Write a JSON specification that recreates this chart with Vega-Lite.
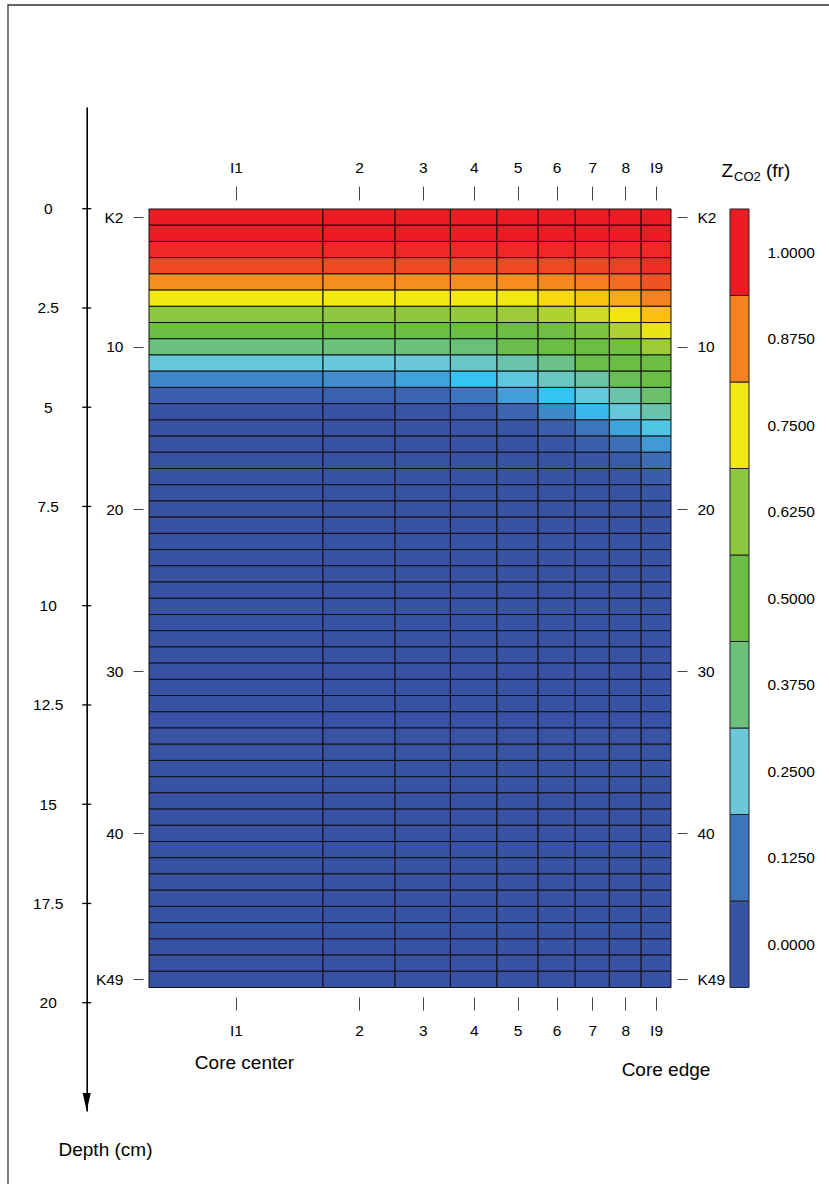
{
"$schema": "https://vega.github.io/schema/vega-lite/v6.json",
"width": 522,
"height": 1004,
"autosize": {"type": "none"},
"padding": {"left": 149, "top": 107, "right": 158, "bottom": 73},
"background": "white",
"config": {"font": "Liberation Sans", "view": {"stroke": null}, "axis": {"labelFont": "Liberation Sans", "labelFontSize": 15.5, "labelColor": "#000", "grid": false, "title": null, "labelOverlap": false, "labelFlush": false, "labelBound": false}},
"datasets": {
"cols": [{"i":1,"r0":0,"r1":174},{"i":2,"r0":174,"r1":246.07},{"i":3,"r0":246.07,"r1":301.38},{"i":4,"r0":301.38,"r1":348},{"i":5,"r0":348,"r1":389.07},{"i":6,"r0":389.07,"r1":426.21},{"i":7,"r0":426.21,"r1":460.36},{"i":8,"r0":460.36,"r1":492.15},{"i":9,"r0":492.15,"r1":522}],
"krows": [{"k":2,"k0":1.5,"k1":2.5},{"k":3,"k0":2.5,"k1":3.5},{"k":4,"k0":3.5,"k1":4.5},{"k":5,"k0":4.5,"k1":5.5},{"k":6,"k0":5.5,"k1":6.5},{"k":7,"k0":6.5,"k1":7.5},{"k":8,"k0":7.5,"k1":8.5},{"k":9,"k0":8.5,"k1":9.5},{"k":10,"k0":9.5,"k1":10.5},{"k":11,"k0":10.5,"k1":11.5},{"k":12,"k0":11.5,"k1":12.5},{"k":13,"k0":12.5,"k1":13.5},{"k":14,"k0":13.5,"k1":14.5},{"k":15,"k0":14.5,"k1":15.5},{"k":16,"k0":15.5,"k1":16.5},{"k":17,"k0":16.5,"k1":17.5},{"k":18,"k0":17.5,"k1":18.5},{"k":19,"k0":18.5,"k1":19.5},{"k":20,"k0":19.5,"k1":20.5},{"k":21,"k0":20.5,"k1":21.5},{"k":22,"k0":21.5,"k1":22.5},{"k":23,"k0":22.5,"k1":23.5},{"k":24,"k0":23.5,"k1":24.5},{"k":25,"k0":24.5,"k1":25.5},{"k":26,"k0":25.5,"k1":26.5},{"k":27,"k0":26.5,"k1":27.5},{"k":28,"k0":27.5,"k1":28.5},{"k":29,"k0":28.5,"k1":29.5},{"k":30,"k0":29.5,"k1":30.5},{"k":31,"k0":30.5,"k1":31.5},{"k":32,"k0":31.5,"k1":32.5},{"k":33,"k0":32.5,"k1":33.5},{"k":34,"k0":33.5,"k1":34.5},{"k":35,"k0":34.5,"k1":35.5},{"k":36,"k0":35.5,"k1":36.5},{"k":37,"k0":36.5,"k1":37.5},{"k":38,"k0":37.5,"k1":38.5},{"k":39,"k0":38.5,"k1":39.5},{"k":40,"k0":39.5,"k1":40.5},{"k":41,"k0":40.5,"k1":41.5},{"k":42,"k0":41.5,"k1":42.5},{"k":43,"k0":42.5,"k1":43.5},{"k":44,"k0":43.5,"k1":44.5},{"k":45,"k0":44.5,"k1":45.5},{"k":46,"k0":45.5,"k1":46.5},{"k":47,"k0":46.5,"k1":47.5},{"k":48,"k0":47.5,"k1":48.5},{"k":49,"k0":48.5,"k1":49.5}],
"depthticks": [{"d":0},{"d":2.5},{"d":5},{"d":7.5},{"d":10},{"d":12.5},{"d":15},{"d":17.5},{"d":20}],
"legend": [{"z":0,"lo":-0.0625,"hi":0.0625},{"z":0.125,"lo":0.0625,"hi":0.1875},{"z":0.25,"lo":0.1875,"hi":0.3125},{"z":0.375,"lo":0.3125,"hi":0.4375},{"z":0.5,"lo":0.4375,"hi":0.5625},{"z":0.625,"lo":0.5625,"hi":0.6875},{"z":0.75,"lo":0.6875,"hi":0.8125},{"z":0.875,"lo":0.8125,"hi":0.9375},{"z":1,"lo":0.9375,"hi":1.0625}],
"cells": [
{"k":2,"i":1,"z":1},{"k":2,"i":2,"z":1},{"k":2,"i":3,"z":1},{"k":2,"i":4,"z":1},{"k":2,"i":5,"z":1},{"k":2,"i":6,"z":1},{"k":2,"i":7,"z":1},{"k":2,"i":8,"z":1},{"k":2,"i":9,"z":1},
{"k":3,"i":1,"z":1},{"k":3,"i":2,"z":1},{"k":3,"i":3,"z":1},{"k":3,"i":4,"z":1},{"k":3,"i":5,"z":1},{"k":3,"i":6,"z":1},{"k":3,"i":7,"z":1},{"k":3,"i":8,"z":1},{"k":3,"i":9,"z":1},
{"k":4,"i":1,"z":0.985},{"k":4,"i":2,"z":0.985},{"k":4,"i":3,"z":0.985},{"k":4,"i":4,"z":0.985},{"k":4,"i":5,"z":0.985},{"k":4,"i":6,"z":0.985},{"k":4,"i":7,"z":0.985},{"k":4,"i":8,"z":0.985},{"k":4,"i":9,"z":0.985},
{"k":5,"i":1,"z":0.94},{"k":5,"i":2,"z":0.94},{"k":5,"i":3,"z":0.94},{"k":5,"i":4,"z":0.94},{"k":5,"i":5,"z":0.94},{"k":5,"i":6,"z":0.942},{"k":5,"i":7,"z":0.945},{"k":5,"i":8,"z":0.955},{"k":5,"i":9,"z":0.978},
{"k":6,"i":1,"z":0.862},{"k":6,"i":2,"z":0.862},{"k":6,"i":3,"z":0.862},{"k":6,"i":4,"z":0.862},{"k":6,"i":5,"z":0.864},{"k":6,"i":6,"z":0.868},{"k":6,"i":7,"z":0.878},{"k":6,"i":8,"z":0.9},{"k":6,"i":9,"z":0.93},
{"k":7,"i":1,"z":0.75},{"k":7,"i":2,"z":0.75},{"k":7,"i":3,"z":0.75},{"k":7,"i":4,"z":0.75},{"k":7,"i":5,"z":0.752},{"k":7,"i":6,"z":0.775},{"k":7,"i":7,"z":0.81},{"k":7,"i":8,"z":0.835},{"k":7,"i":9,"z":0.875},
{"k":8,"i":1,"z":0.625},{"k":8,"i":2,"z":0.627},{"k":8,"i":3,"z":0.63},{"k":8,"i":4,"z":0.635},{"k":8,"i":5,"z":0.645},{"k":8,"i":6,"z":0.668},{"k":8,"i":7,"z":0.705},{"k":8,"i":8,"z":0.755},{"k":8,"i":9,"z":0.815},
{"k":9,"i":1,"z":0.5},{"k":9,"i":2,"z":0.5},{"k":9,"i":3,"z":0.5},{"k":9,"i":4,"z":0.5},{"k":9,"i":5,"z":0.5},{"k":9,"i":6,"z":0.52},{"k":9,"i":7,"z":0.57},{"k":9,"i":8,"z":0.665},{"k":9,"i":9,"z":0.74},
{"k":10,"i":1,"z":0.37},{"k":10,"i":2,"z":0.372},{"k":10,"i":3,"z":0.375},{"k":10,"i":4,"z":0.38},{"k":10,"i":5,"z":0.48},{"k":10,"i":6,"z":0.5},{"k":10,"i":7,"z":0.5},{"k":10,"i":8,"z":0.525},{"k":10,"i":9,"z":0.645},
{"k":11,"i":1,"z":0.248},{"k":11,"i":2,"z":0.249},{"k":11,"i":3,"z":0.25},{"k":11,"i":4,"z":0.275},{"k":11,"i":5,"z":0.31},{"k":11,"i":6,"z":0.355},{"k":11,"i":7,"z":0.49},{"k":11,"i":8,"z":0.5},{"k":11,"i":9,"z":0.51},
{"k":12,"i":1,"z":0.148},{"k":12,"i":2,"z":0.155},{"k":12,"i":3,"z":0.178},{"k":12,"i":4,"z":0.21},{"k":12,"i":5,"z":0.24},{"k":12,"i":6,"z":0.28},{"k":12,"i":7,"z":0.32},{"k":12,"i":8,"z":0.46},{"k":12,"i":9,"z":0.5},
{"k":13,"i":1,"z":0.045},{"k":13,"i":2,"z":0.05},{"k":13,"i":3,"z":0.07},{"k":13,"i":4,"z":0.125},{"k":13,"i":5,"z":0.175},{"k":13,"i":6,"z":0.21},{"k":13,"i":7,"z":0.245},{"k":13,"i":8,"z":0.31},{"k":13,"i":9,"z":0.41},
{"k":14,"i":1,"z":0},{"k":14,"i":2,"z":0},{"k":14,"i":3,"z":0.005},{"k":14,"i":4,"z":0.015},{"k":14,"i":5,"z":0.07},{"k":14,"i":6,"z":0.15},{"k":14,"i":7,"z":0.2},{"k":14,"i":8,"z":0.245},{"k":14,"i":9,"z":0.31},
{"k":15,"i":1,"z":0},{"k":15,"i":2,"z":0},{"k":15,"i":3,"z":0},{"k":15,"i":4,"z":0.002},{"k":15,"i":5,"z":0.01},{"k":15,"i":6,"z":0.045},{"k":15,"i":7,"z":0.125},{"k":15,"i":8,"z":0.18},{"k":15,"i":9,"z":0.23},
{"k":16,"i":1,"z":0},{"k":16,"i":2,"z":0},{"k":16,"i":3,"z":0},{"k":16,"i":4,"z":0},{"k":16,"i":5,"z":0},{"k":16,"i":6,"z":0.008},{"k":16,"i":7,"z":0.045},{"k":16,"i":8,"z":0.11},{"k":16,"i":9,"z":0.17},
{"k":17,"i":1,"z":0},{"k":17,"i":2,"z":0},{"k":17,"i":3,"z":0},{"k":17,"i":4,"z":0},{"k":17,"i":5,"z":0},{"k":17,"i":6,"z":0},{"k":17,"i":7,"z":0.008},{"k":17,"i":8,"z":0.03},{"k":17,"i":9,"z":0.1},
{"k":18,"i":1,"z":0},{"k":18,"i":2,"z":0},{"k":18,"i":3,"z":0},{"k":18,"i":4,"z":0},{"k":18,"i":5,"z":0},{"k":18,"i":6,"z":0},{"k":18,"i":7,"z":0},{"k":18,"i":8,"z":0.005},{"k":18,"i":9,"z":0.035},
{"k":19,"i":1,"z":0},{"k":19,"i":2,"z":0},{"k":19,"i":3,"z":0},{"k":19,"i":4,"z":0},{"k":19,"i":5,"z":0},{"k":19,"i":6,"z":0},{"k":19,"i":7,"z":0},{"k":19,"i":8,"z":0},{"k":19,"i":9,"z":0.008},
{"k":20,"i":1,"z":0},{"k":20,"i":2,"z":0},{"k":20,"i":3,"z":0},{"k":20,"i":4,"z":0},{"k":20,"i":5,"z":0},{"k":20,"i":6,"z":0},{"k":20,"i":7,"z":0},{"k":20,"i":8,"z":0},{"k":20,"i":9,"z":0},
{"k":21,"i":1,"z":0},{"k":21,"i":2,"z":0},{"k":21,"i":3,"z":0},{"k":21,"i":4,"z":0},{"k":21,"i":5,"z":0},{"k":21,"i":6,"z":0},{"k":21,"i":7,"z":0},{"k":21,"i":8,"z":0},{"k":21,"i":9,"z":0},
{"k":22,"i":1,"z":0},{"k":22,"i":2,"z":0},{"k":22,"i":3,"z":0},{"k":22,"i":4,"z":0},{"k":22,"i":5,"z":0},{"k":22,"i":6,"z":0},{"k":22,"i":7,"z":0},{"k":22,"i":8,"z":0},{"k":22,"i":9,"z":0},
{"k":23,"i":1,"z":0},{"k":23,"i":2,"z":0},{"k":23,"i":3,"z":0},{"k":23,"i":4,"z":0},{"k":23,"i":5,"z":0},{"k":23,"i":6,"z":0},{"k":23,"i":7,"z":0},{"k":23,"i":8,"z":0},{"k":23,"i":9,"z":0},
{"k":24,"i":1,"z":0},{"k":24,"i":2,"z":0},{"k":24,"i":3,"z":0},{"k":24,"i":4,"z":0},{"k":24,"i":5,"z":0},{"k":24,"i":6,"z":0},{"k":24,"i":7,"z":0},{"k":24,"i":8,"z":0},{"k":24,"i":9,"z":0},
{"k":25,"i":1,"z":0},{"k":25,"i":2,"z":0},{"k":25,"i":3,"z":0},{"k":25,"i":4,"z":0},{"k":25,"i":5,"z":0},{"k":25,"i":6,"z":0},{"k":25,"i":7,"z":0},{"k":25,"i":8,"z":0},{"k":25,"i":9,"z":0},
{"k":26,"i":1,"z":0},{"k":26,"i":2,"z":0},{"k":26,"i":3,"z":0},{"k":26,"i":4,"z":0},{"k":26,"i":5,"z":0},{"k":26,"i":6,"z":0},{"k":26,"i":7,"z":0},{"k":26,"i":8,"z":0},{"k":26,"i":9,"z":0},
{"k":27,"i":1,"z":0},{"k":27,"i":2,"z":0},{"k":27,"i":3,"z":0},{"k":27,"i":4,"z":0},{"k":27,"i":5,"z":0},{"k":27,"i":6,"z":0},{"k":27,"i":7,"z":0},{"k":27,"i":8,"z":0},{"k":27,"i":9,"z":0},
{"k":28,"i":1,"z":0},{"k":28,"i":2,"z":0},{"k":28,"i":3,"z":0},{"k":28,"i":4,"z":0},{"k":28,"i":5,"z":0},{"k":28,"i":6,"z":0},{"k":28,"i":7,"z":0},{"k":28,"i":8,"z":0},{"k":28,"i":9,"z":0},
{"k":29,"i":1,"z":0},{"k":29,"i":2,"z":0},{"k":29,"i":3,"z":0},{"k":29,"i":4,"z":0},{"k":29,"i":5,"z":0},{"k":29,"i":6,"z":0},{"k":29,"i":7,"z":0},{"k":29,"i":8,"z":0},{"k":29,"i":9,"z":0},
{"k":30,"i":1,"z":0},{"k":30,"i":2,"z":0},{"k":30,"i":3,"z":0},{"k":30,"i":4,"z":0},{"k":30,"i":5,"z":0},{"k":30,"i":6,"z":0},{"k":30,"i":7,"z":0},{"k":30,"i":8,"z":0},{"k":30,"i":9,"z":0},
{"k":31,"i":1,"z":0},{"k":31,"i":2,"z":0},{"k":31,"i":3,"z":0},{"k":31,"i":4,"z":0},{"k":31,"i":5,"z":0},{"k":31,"i":6,"z":0},{"k":31,"i":7,"z":0},{"k":31,"i":8,"z":0},{"k":31,"i":9,"z":0},
{"k":32,"i":1,"z":0},{"k":32,"i":2,"z":0},{"k":32,"i":3,"z":0},{"k":32,"i":4,"z":0},{"k":32,"i":5,"z":0},{"k":32,"i":6,"z":0},{"k":32,"i":7,"z":0},{"k":32,"i":8,"z":0},{"k":32,"i":9,"z":0},
{"k":33,"i":1,"z":0},{"k":33,"i":2,"z":0},{"k":33,"i":3,"z":0},{"k":33,"i":4,"z":0},{"k":33,"i":5,"z":0},{"k":33,"i":6,"z":0},{"k":33,"i":7,"z":0},{"k":33,"i":8,"z":0},{"k":33,"i":9,"z":0},
{"k":34,"i":1,"z":0},{"k":34,"i":2,"z":0},{"k":34,"i":3,"z":0},{"k":34,"i":4,"z":0},{"k":34,"i":5,"z":0},{"k":34,"i":6,"z":0},{"k":34,"i":7,"z":0},{"k":34,"i":8,"z":0},{"k":34,"i":9,"z":0},
{"k":35,"i":1,"z":0},{"k":35,"i":2,"z":0},{"k":35,"i":3,"z":0},{"k":35,"i":4,"z":0},{"k":35,"i":5,"z":0},{"k":35,"i":6,"z":0},{"k":35,"i":7,"z":0},{"k":35,"i":8,"z":0},{"k":35,"i":9,"z":0},
{"k":36,"i":1,"z":0},{"k":36,"i":2,"z":0},{"k":36,"i":3,"z":0},{"k":36,"i":4,"z":0},{"k":36,"i":5,"z":0},{"k":36,"i":6,"z":0},{"k":36,"i":7,"z":0},{"k":36,"i":8,"z":0},{"k":36,"i":9,"z":0},
{"k":37,"i":1,"z":0},{"k":37,"i":2,"z":0},{"k":37,"i":3,"z":0},{"k":37,"i":4,"z":0},{"k":37,"i":5,"z":0},{"k":37,"i":6,"z":0},{"k":37,"i":7,"z":0},{"k":37,"i":8,"z":0},{"k":37,"i":9,"z":0},
{"k":38,"i":1,"z":0},{"k":38,"i":2,"z":0},{"k":38,"i":3,"z":0},{"k":38,"i":4,"z":0},{"k":38,"i":5,"z":0},{"k":38,"i":6,"z":0},{"k":38,"i":7,"z":0},{"k":38,"i":8,"z":0},{"k":38,"i":9,"z":0},
{"k":39,"i":1,"z":0},{"k":39,"i":2,"z":0},{"k":39,"i":3,"z":0},{"k":39,"i":4,"z":0},{"k":39,"i":5,"z":0},{"k":39,"i":6,"z":0},{"k":39,"i":7,"z":0},{"k":39,"i":8,"z":0},{"k":39,"i":9,"z":0},
{"k":40,"i":1,"z":0},{"k":40,"i":2,"z":0},{"k":40,"i":3,"z":0},{"k":40,"i":4,"z":0},{"k":40,"i":5,"z":0},{"k":40,"i":6,"z":0},{"k":40,"i":7,"z":0},{"k":40,"i":8,"z":0},{"k":40,"i":9,"z":0},
{"k":41,"i":1,"z":0},{"k":41,"i":2,"z":0},{"k":41,"i":3,"z":0},{"k":41,"i":4,"z":0},{"k":41,"i":5,"z":0},{"k":41,"i":6,"z":0},{"k":41,"i":7,"z":0},{"k":41,"i":8,"z":0},{"k":41,"i":9,"z":0},
{"k":42,"i":1,"z":0},{"k":42,"i":2,"z":0},{"k":42,"i":3,"z":0},{"k":42,"i":4,"z":0},{"k":42,"i":5,"z":0},{"k":42,"i":6,"z":0},{"k":42,"i":7,"z":0},{"k":42,"i":8,"z":0},{"k":42,"i":9,"z":0},
{"k":43,"i":1,"z":0},{"k":43,"i":2,"z":0},{"k":43,"i":3,"z":0},{"k":43,"i":4,"z":0},{"k":43,"i":5,"z":0},{"k":43,"i":6,"z":0},{"k":43,"i":7,"z":0},{"k":43,"i":8,"z":0},{"k":43,"i":9,"z":0},
{"k":44,"i":1,"z":0},{"k":44,"i":2,"z":0},{"k":44,"i":3,"z":0},{"k":44,"i":4,"z":0},{"k":44,"i":5,"z":0},{"k":44,"i":6,"z":0},{"k":44,"i":7,"z":0},{"k":44,"i":8,"z":0},{"k":44,"i":9,"z":0},
{"k":45,"i":1,"z":0},{"k":45,"i":2,"z":0},{"k":45,"i":3,"z":0},{"k":45,"i":4,"z":0},{"k":45,"i":5,"z":0},{"k":45,"i":6,"z":0},{"k":45,"i":7,"z":0},{"k":45,"i":8,"z":0},{"k":45,"i":9,"z":0},
{"k":46,"i":1,"z":0},{"k":46,"i":2,"z":0},{"k":46,"i":3,"z":0},{"k":46,"i":4,"z":0},{"k":46,"i":5,"z":0},{"k":46,"i":6,"z":0},{"k":46,"i":7,"z":0},{"k":46,"i":8,"z":0},{"k":46,"i":9,"z":0},
{"k":47,"i":1,"z":0},{"k":47,"i":2,"z":0},{"k":47,"i":3,"z":0},{"k":47,"i":4,"z":0},{"k":47,"i":5,"z":0},{"k":47,"i":6,"z":0},{"k":47,"i":7,"z":0},{"k":47,"i":8,"z":0},{"k":47,"i":9,"z":0},
{"k":48,"i":1,"z":0},{"k":48,"i":2,"z":0},{"k":48,"i":3,"z":0},{"k":48,"i":4,"z":0},{"k":48,"i":5,"z":0},{"k":48,"i":6,"z":0},{"k":48,"i":7,"z":0},{"k":48,"i":8,"z":0},{"k":48,"i":9,"z":0},
{"k":49,"i":1,"z":0},{"k":49,"i":2,"z":0},{"k":49,"i":3,"z":0},{"k":49,"i":4,"z":0},{"k":49,"i":5,"z":0},{"k":49,"i":6,"z":0},{"k":49,"i":7,"z":0},{"k":49,"i":8,"z":0},{"k":49,"i":9,"z":0}
]
},
"resolve": {"scale": {"y": "independent"}, "axis": {"x": "independent", "y": "independent"}},
"layer": [
{
"data": {"name": "cells"},
"transform": [
{"lookup": "i", "from": {"data": {"name": "cols"}, "key": "i", "fields": ["r0", "r1"]}},
{"lookup": "k", "from": {"data": {"name": "krows"}, "key": "k", "fields": ["k0", "k1"]}}
],
"mark": {"type": "rect", "stroke": "#111111", "strokeWidth": 1},
"encoding": {
"x": {"field": "r0", "type": "quantitative", "scale": {"domain": [0, 522], "nice": false, "zero": false},
 "axis": {"orient": "bottom", "offset": -114, "values": [87, 210.04, 273.73, 324.69, 368.54, 407.64, 443.29, 476.26, 507.07], "labelExpr": "datum.value<100?'I1':datum.value<250?'2':datum.value<300?'3':datum.value<350?'4':datum.value<390?'5':datum.value<420?'6':datum.value<460?'7':datum.value<490?'8':'I9'", "domain": false, "tickSize": 13, "tickColor": "#444", "tickWidth": 1, "labelPadding": 13.5, "labelAlign": "center"}},
"x2": {"field": "r1"},
"y": {"field": "k0", "type": "quantitative", "scale": {"domain": [-4.789, 57.114], "reverse": true, "nice": false, "zero": false},
 "axis": {"orient": "left", "offset": 6, "values": [2, 10, 20, 30, 40, 49], "labelExpr": "datum.value==2?'K2':datum.value==49?'K49':''+datum.value", "domain": false, "tickSize": 10, "tickColor": "#444", "tickWidth": 1, "labelPadding": 10, "labelBaseline": "middle"}},
"y2": {"field": "k1"},
"color": {"field": "z", "type": "quantitative", "legend": null,
 "scale": {"type": "linear", "interpolate": "rgb", "domain": [0, 0.125, 0.17, 0.21, 0.25, 0.375, 0.5, 0.625, 0.75, 0.81, 0.875, 0.94, 1], "range": ["#3953a4", "#3e74bb", "#4299d4", "#35c4f2", "#6ac8d8", "#6bc07a", "#6bbd45", "#8dc63f", "#f1e814", "#fcc40f", "#f58220", "#ef4a24", "#ed1c24"]}}
}
},
{
"data": {"name": "cells"},
"transform": [
{"lookup": "i", "from": {"data": {"name": "cols"}, "key": "i", "fields": ["r0", "r1"]}},
{"lookup": "k", "from": {"data": {"name": "krows"}, "key": "k", "fields": ["k0", "k1"]}}
],
"mark": {"type": "rect", "opacity": 0},
"encoding": {
"x": {"field": "r0", "type": "quantitative", "scale": {"domain": [0, 522], "nice": false, "zero": false},
 "axis": {"orient": "top", "offset": -93, "values": [87, 210.04, 273.73, 324.69, 368.54, 407.64, 443.29, 476.26, 507.07], "labelExpr": "datum.value<100?'I1':datum.value<250?'2':datum.value<300?'3':datum.value<350?'4':datum.value<390?'5':datum.value<420?'6':datum.value<460?'7':datum.value<490?'8':'I9'", "domain": false, "tickSize": 14, "tickColor": "#444", "tickWidth": 1, "labelPadding": 10.5, "labelAlign": "center"}},
"x2": {"field": "r1"},
"y": {"field": "k0", "type": "quantitative", "scale": {"domain": [-4.789, 57.114], "reverse": true, "nice": false, "zero": false},
 "axis": {"orient": "right", "offset": 6, "values": [2, 10, 20, 30, 40, 49], "labelExpr": "datum.value==2?'K2':datum.value==49?'K49':''+datum.value", "domain": false, "tickSize": 10, "tickColor": "#444", "tickWidth": 1, "labelPadding": 10, "labelBaseline": "middle"}},
"y2": {"field": "k1"}
}
},
{
"data": {"name": "depthticks"},
"mark": {"type": "tick", "orient": "horizontal", "size": 9, "thickness": 1.3, "color": "#000", "opacity": 1},
"encoding": {
"x": {"datum": -62.3, "type": "quantitative", "scale": {"domain": [0, 522], "nice": false, "zero": false}, "axis": null},
"y": {"field": "d", "type": "quantitative", "scale": {"domain": [-2.562, 22.728], "reverse": true, "nice": false, "zero": false},
 "axis": {"orient": "left", "offset": 62.3, "values": [0, 2.5, 5, 7.5, 10, 12.5, 15, 17.5, 20], "labelExpr": "''+datum.value", "ticks": false, "domain": true, "domainColor": "#000", "domainWidth": 1.6, "labelPadding": 39, "labelAlign": "center", "labelBaseline": "middle"}}
}
},
{
"data": {"values": [{}]},
"mark": {"type": "point", "shape": "M-0.45,-1L0.45,-1L0,1Z", "size": 324, "filled": true, "color": "#000", "opacity": 1},
"encoding": {
"x": {"datum": -62.3, "type": "quantitative", "scale": {"domain": [0, 522], "nice": false, "zero": false}, "axis": null},
"y": {"datum": 22.5, "type": "quantitative", "scale": {"domain": [-2.562, 22.728], "reverse": true, "nice": false, "zero": false}, "axis": null}
}
},
{
"data": {"name": "legend"},
"mark": {"type": "rect", "stroke": "#222222", "strokeWidth": 1},
"encoding": {
"x": {"datum": 581, "type": "quantitative", "scale": {"domain": [0, 522], "nice": false, "zero": false}, "axis": null},
"x2": {"datum": 600},
"y": {"field": "lo", "type": "quantitative", "scale": {"domain": [-0.2410, 1.2099], "nice": false, "zero": false},
 "axis": {"orient": "right", "offset": 78, "values": [0, 0.125, 0.25, 0.375, 0.5, 0.625, 0.75, 0.875, 1], "format": ".4f", "ticks": false, "domain": false, "labelPadding": 18, "labelAlign": "left", "labelBaseline": "middle"}},
"y2": {"field": "hi"},
"color": {"field": "z", "type": "quantitative", "legend": null,
 "scale": {"type": "linear", "interpolate": "rgb", "domain": [0, 0.125, 0.17, 0.21, 0.25, 0.375, 0.5, 0.625, 0.75, 0.81, 0.875, 0.94, 1], "range": ["#3953a4", "#3e74bb", "#4299d4", "#35c4f2", "#6ac8d8", "#6bc07a", "#6bbd45", "#8dc63f", "#f1e814", "#fcc40f", "#f58220", "#ef4a24", "#ed1c24"]}}
}
},
{
"data": {"values": [{}]},
"mark": {"type": "text", "text": "Core center", "fontSize": 19, "align": "center", "baseline": "middle", "color": "#000"},
"encoding": {
"x": {"datum": 95.5, "type": "quantitative", "scale": {"domain": [0, 522], "nice": false, "zero": false}, "axis": null},
"y": {"datum": 21.52, "type": "quantitative", "scale": {"domain": [-2.562, 22.728], "reverse": true, "nice": false, "zero": false}, "axis": null}
}
},
{
"data": {"values": [{}]},
"mark": {"type": "text", "text": "Core edge", "fontSize": 19, "align": "center", "baseline": "middle", "color": "#000"},
"encoding": {
"x": {"datum": 517, "type": "quantitative", "scale": {"domain": [0, 522], "nice": false, "zero": false}, "axis": null},
"y": {"datum": 21.70, "type": "quantitative", "scale": {"domain": [-2.562, 22.728], "reverse": true, "nice": false, "zero": false}, "axis": null}
}
},
{
"data": {"values": [{}]},
"mark": {"type": "text", "text": "Depth (cm)", "fontSize": 19, "align": "center", "baseline": "middle", "color": "#000"},
"encoding": {
"x": {"datum": -43.5, "type": "quantitative", "scale": {"domain": [0, 522], "nice": false, "zero": false}, "axis": null},
"y": {"datum": 23.71, "type": "quantitative", "scale": {"domain": [-2.562, 22.728], "reverse": true, "nice": false, "zero": false}, "axis": null}
}
},
{
"data": {"values": [{}]},
"mark": {"type": "text", "text": "Z", "fontSize": 19, "align": "left", "baseline": "alphabetic", "color": "#000"},
"encoding": {
"x": {"datum": 572.5, "type": "quantitative", "scale": {"domain": [0, 522], "nice": false, "zero": false}, "axis": null},
"y": {"datum": -0.80, "type": "quantitative", "scale": {"domain": [-2.562, 22.728], "reverse": true, "nice": false, "zero": false}, "axis": null}
}
},
{
"data": {"values": [{}]},
"mark": {"type": "text", "text": "CO2", "fontSize": 13, "align": "left", "baseline": "alphabetic", "color": "#000"},
"encoding": {
"x": {"datum": 585, "type": "quantitative", "scale": {"domain": [0, 522], "nice": false, "zero": false}, "axis": null},
"y": {"datum": -0.70, "type": "quantitative", "scale": {"domain": [-2.562, 22.728], "reverse": true, "nice": false, "zero": false}, "axis": null}
}
},
{
"data": {"values": [{}]},
"mark": {"type": "text", "text": "(fr)", "fontSize": 19, "align": "left", "baseline": "alphabetic", "color": "#000"},
"encoding": {
"x": {"datum": 617, "type": "quantitative", "scale": {"domain": [0, 522], "nice": false, "zero": false}, "axis": null},
"y": {"datum": -0.80, "type": "quantitative", "scale": {"domain": [-2.562, 22.728], "reverse": true, "nice": false, "zero": false}, "axis": null}
}
},
{
"data": {"values": [{}]},
"mark": {"type": "rect", "filled": false, "fill": null, "stroke": "#333333", "strokeWidth": 1.3},
"encoding": {
"x": {"datum": -141, "type": "quantitative", "scale": {"domain": [0, 522], "nice": false, "zero": false}, "axis": null},
"x2": {"datum": 900},
"y": {"datum": -5.131, "type": "quantitative", "scale": {"domain": [-2.562, 22.728], "reverse": true, "nice": false, "zero": false}, "axis": null},
"y2": {"datum": 30}
}
}
]
}
